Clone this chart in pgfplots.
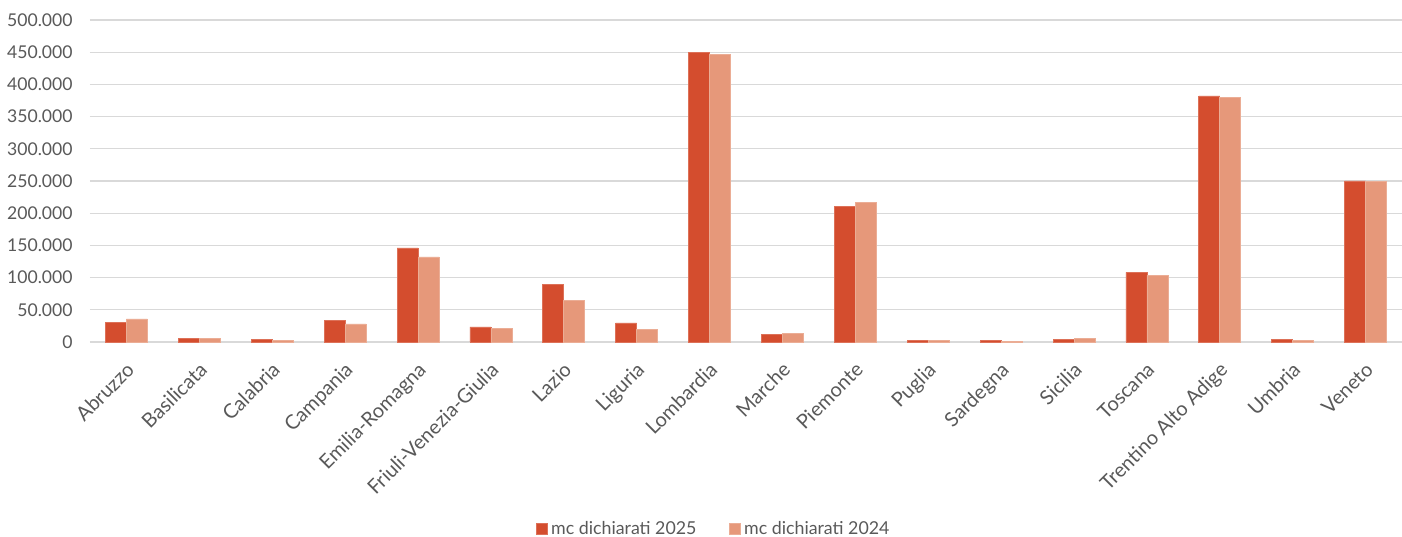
\documentclass[border=0pt]{standalone}
\usepackage{pgfplots}
\pgfplotsset{compat=1.18}
\usepackage{fontspec}
\setmainfont{Lato}
\definecolor{c25}{HTML}{D44D2E}
\definecolor{c24}{HTML}{E6987A}
\definecolor{txt}{HTML}{595959}
\definecolor{grd}{HTML}{D9D9D9}
\begin{document}
\begin{tikzpicture}
\begin{axis}[
  name=ax,
  scale only axis,
  width=656pt, height=161pt,
  ybar=0pt, bar width=10.5pt,
  xmin=-0.5, xmax=17.5,
  ymin=0, ymax=500000,
  ytick={0,50000,...,500000},
  xtick={0,...,17},
  xticklabels={Abruzzo,Basilicata,Calabria,Campania,Emilia-Romagna,Friuli-Venezia-Giulia,Lazio,Liguria,Lombardia,Marche,Piemonte,Puglia,Sardegna,Sicilia,Toscana,Trentino Alto Adige,Umbria,Veneto},
  x tick label style={rotate=45, anchor=north east, font=\fontsize{10}{11}\selectfont, text=txt, inner sep=1pt, xshift=-6pt, yshift=-5pt},
  y tick label style={font=\fontsize{8.8}{10}\selectfont, text=txt, anchor=east, inner sep=0pt, xshift=-8.5pt},
  scaled y ticks=false,
  yticklabel style={/pgf/number format/.cd, fixed, precision=0, 1000 sep={.}, assume math mode=true},
  major tick length=0pt,
  ymajorgrids, grid style={grd, line width=0.6pt},
  axis x line*=bottom, axis y line*=left,
  x axis line style={grd, line width=0.7pt},
  y axis line style={draw=none},
  clip=false,
  legend columns=2,
  legend style={at={(0.476,-0.581)}, anchor=center, draw=none, fill=none,
    font=\fontsize{8.9}{10}\selectfont, text=txt,
    /tikz/every even column/.append style={column sep=14pt}},
  legend image code/.code={\fill[#1] (0pt,-2.75pt) rectangle (5.5pt,2.75pt);},
]
\addplot[fill=c25, draw=c25!80!white, line width=0.3pt] coordinates {
(0,30000) (1,5700) (2,4300) (3,33000) (4,146000) (5,23300) (6,89600) (7,29500) (8,450000) (9,12000) (10,210000) (11,2500) (12,2000) (13,4600) (14,108000) (15,382000) (16,4600) (17,250000)};
\addplot[fill=c24, draw=c24!80!white, line width=0.3pt] coordinates {
(0,35700) (1,5700) (2,3000) (3,28000) (4,132000) (5,21700) (6,64700) (7,19700) (8,446000) (9,13500) (10,217000) (11,2000) (12,1500) (13,5700) (14,103600) (15,380000) (16,3000) (17,249500)};
\legend{mc dichiarati 2025, mc dichiarati 2024}
\end{axis}
\pgfresetboundingbox
\path[use as bounding box] ([xshift=-45pt,yshift=-97.5pt]ax.south west) rectangle ([yshift=10pt]ax.north east);
\end{tikzpicture}
\end{document}
